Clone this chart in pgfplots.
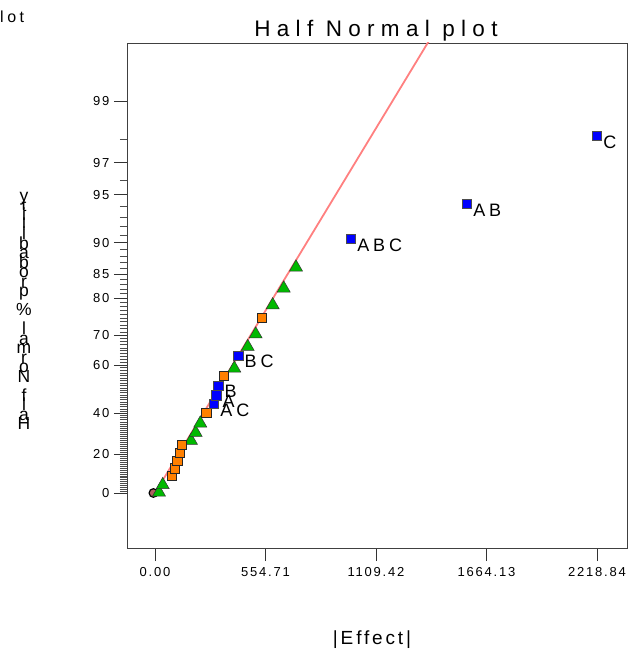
\documentclass[border=0pt]{standalone}
\usepackage{fontspec}
\setmainfont{Liberation Sans}
\newfontfamily\tickfont[LetterSpace=14]{Liberation Sans}
\newfontfamily\spaced[LetterSpace=28]{Liberation Sans}
\newfontfamily\lblfont[LetterSpace=22]{Liberation Sans}
\newfontfamily\xlfont[LetterSpace=15]{Liberation Sans}
\usepackage{pgfplots}
\pgfplotsset{compat=1.18}
\definecolor{dxgreen}{RGB}{0,185,0}
\definecolor{dxorange}{RGB}{255,128,0}
\definecolor{dxblue}{RGB}{0,0,255}
\definecolor{dxline}{RGB}{255,128,128}
\definecolor{dxcirc}{RGB}{176,96,96}
\begin{document}
\begin{tikzpicture}
\path[use as bounding box] (0pt,0pt) rectangle (632pt,662pt);
\begin{axis}[
  at={(127pt,114pt)}, anchor=south west,
  scale only axis, width=500pt, height=505pt,
  xmin=-140.6, xmax=2369.5, ymin=-0.3614, ymax=2.9566,
  axis line style={draw=black!75, line width=0.8pt},
  clip=true,
  xtick={0,554.71,1109.42,1664.13,2218.84},
  xticklabels={0.00,554.71,1109.42,1664.13,2218.84},
  ytick={0,0.25335,0.52440,0.84162,1.03643,1.28155,1.43953,1.64485,1.95996,2.17009,2.57583},
  yticklabels={0,20,40,60,70,80,85,90,95,97,99},
  minor ytick={0.01253,0.02507,0.03761,0.05015,0.06271,0.07527,0.08784,0.10043,0.11304,0.12566,0.13830,0.15097,0.16366,0.17637,0.18912,0.20189,0.21470,0.22754,0.24042,0.25335,0.26631,0.27932,0.29237,0.30548,0.31864,0.33185,0.34513,0.35846,0.37186,0.38532,0.39886,0.41246,0.42615,0.43991,0.45376,0.46770,0.48173,0.49585,0.51007,0.52440,0.53884,0.55338,0.56805,0.58284,0.59776,0.61281,0.62801,0.64335,0.65884,0.67449,0.69031,0.70630,0.72247,0.73885,0.75542,0.77219,0.78919,0.80642,0.82389,0.84162,0.85962,0.87790,0.89647,0.91537,0.93459,0.95417,0.97411,0.99446,1.01522,1.03643,1.05812,1.08032,1.10306,1.12639,1.15035,1.17499,1.20036,1.22653,1.25357,1.28155,1.31058,1.34076,1.37220,1.40507,1.43953,1.47579,1.51410,1.55477,1.59819,1.64485,1.69540,1.75069,1.81191,1.88079,1.95996,2.05375,2.17009,2.32635},
  tick align=outside,
  major tick length=13pt, minor tick length=7pt,
  tick style={draw=black!80, line width=0.7pt},
  minor tick style={draw=black!70, line width=0.5pt},
  xtick pos=bottom, ytick pos=left,
  tick label style={font=\tickfont\fontsize{13}{15}\selectfont, text=black},
  x tick label style={yshift=-3pt},
  y tick label style={xshift=-1pt},
]
% fitted line
\addplot[no marks, draw=dxline, line width=1.8pt] coordinates {(0,0) (1500,3.24)};
% circle
\addplot[only marks, mark=*, mark size=4.3pt, mark options={fill=dxcirc, draw=black, line width=1.2pt}] coordinates {(-8,0.0)};
% error terms (green triangles)
\addplot[only marks, mark=triangle*, mark size=7.5pt, mark options={fill=dxgreen, draw=black!80, line width=0.5pt}] coordinates {
(20.1,0.004) (38.7,0.053) (180.7,0.344) (204.3,0.396) (227.4,0.458)
(398.1,0.819) (465.4,0.961) (505.5,1.043) (590.9,1.235) (646.1,1.345) (707.8,1.483)};
% orange squares
\addplot[only marks, mark=square*, mark size=4.6pt, mark options={fill=dxorange, draw=black!85, line width=0.6pt}] coordinates {
(83.8,0.114) (100.4,0.162) (112.0,0.212) (125.5,0.265) (135.5,0.317)
(257.5,0.528) (346.4,0.769) (535.6,1.150)};
% chosen effects (blue squares)
\addplot[only marks, mark=square*, mark size=4.6pt, mark options={fill=dxblue, draw=black!70, line width=0.6pt},
  nodes near coords, point meta=explicit symbolic,
  every node near coord/.style={anchor=west, xshift=1pt, yshift=-6pt, inner sep=5pt, font=\lblfont\fontsize{18}{20}\selectfont}]
  table[meta=lab] {
x z lab
296.2 0.585 AC
307.7 0.642 A
317.8 0.706 B
418.2 0.902 BC
983.9 1.669 ABC
1566.2 1.899 AB
2218.84 2.346 C
};
\end{axis}
% title
\node[anchor=base, inner sep=0] at (376pt,625pt) {\spaced\fontsize{22.5}{25}\selectfont Half Normal plot};
% remnant text top-left
\node[anchor=base west, inner sep=0] at (0pt,639pt) {\lblfont\fontsize{16}{18}\selectfont lot};
% x label
\node[anchor=center, inner sep=0] at (372pt,22pt) {\xlfont\fontsize{19}{21}\selectfont |Effect|};
% stacked y label
\foreach \c [count=\i from 0] in {y,t,i,l,i,b,a,b,o,r,p,{},\%,{},l,a,m,r,o,N,{},f,l,a,H} {
  \node[anchor=base, inner sep=0] at (24pt,{460pt-9.5pt*\i}) {\fontsize{17.5}{19}\selectfont \c};
}
\end{tikzpicture}
\end{document}
